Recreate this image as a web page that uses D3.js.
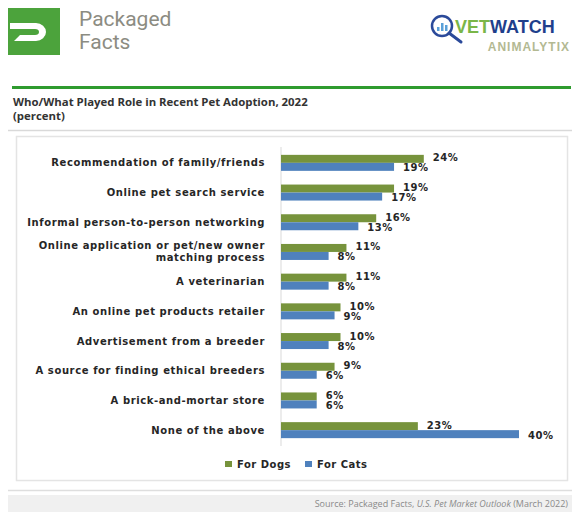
<!DOCTYPE html>
<html lang="en">
<head>
    <meta charset="UTF-8">
    <title>Who/What Played Role in Recent Pet Adoption, 2022</title>
    <script src="https://d3js.org/d3.v7.min.js"></script>
    <style>
        body { margin: 0; background: #fff; }
        svg { display: block; }
    </style>
</head>
<body>
    <svg></svg>

    <script>
const width = 572, height = 512;

// data
const categories = [
    "Recommendation of family/friends",
    "Online pet search service",
    "Informal person-to-person networking",
    "Online application or pet/new owner|matching process",
    "A veterinarian",
    "An online pet products retailer",
    "Advertisement from a breeder",
    "A source for finding ethical breeders",
    "A brick-and-mortar store",
    "None of the above"
];
const dogs = [24, 19, 16, 11, 11, 10, 10, 9, 6, 23];
const cats = [19, 17, 13, 8, 8, 9, 8, 6, 6, 40];
const seriesNames = ["For Dogs", "For Cats"];
const colors = ["#77933c", "#4f81bd"];

const svg = d3.select("svg")
    .attr("width", width)
    .attr("height", height);

// --- header / logos ---
svg.append("rect").attr("x", 8).attr("y", 8).attr("width", 52).attr("height", 47).attr("fill", "#4ca33c");
svg.append("path")
    .attr("d", "M10,23 H36 A10,9 0 0 1 36,41 H14 L20,35 H35 A4,3 0 0 0 35,29 H10 Z")
    .attr("fill", "#fff");
svg.append("text").attr("x", 79).attr("y", 26).text("Packaged")
    .attr("font-family", "Roboto, sans-serif").attr("font-size", 21).attr("fill", "#8c8c82");
svg.append("text").attr("x", 79).attr("y", 49).text("Facts")
    .attr("font-family", "Roboto, sans-serif").attr("font-size", 21).attr("fill", "#8c8c82");

const vw = svg.append("g");
vw.append("circle").attr("cx", 442).attr("cy", 26).attr("r", 10)
    .attr("fill", "none").attr("stroke", "#2b4a9a").attr("stroke-width", 2.5);
vw.append("line").attr("x1", 449).attr("y1", 33).attr("x2", 461).attr("y2", 42)
    .attr("stroke", "#2b4a9a").attr("stroke-width", 3).attr("stroke-linecap", "round");
[[437, 4], [441, 8], [445, 6]].forEach(([x, h]) => {
    vw.append("rect").attr("x", x).attr("y", 31 - h).attr("width", 2.5).attr("height", h).attr("fill", "#5aa0d8");
});
const vt = vw.append("text").attr("x", 455).attr("y", 33)
    .attr("font-family", "Liberation Sans, Arial, sans-serif").attr("font-weight", "bold").attr("font-size", 18);
vt.append("tspan").attr("fill", "#7ab648").text("VET");
vt.append("tspan").attr("fill", "#1f3f8c").text("WATCH");
vw.append("text").attr("x", 570).attr("y", 51).attr("text-anchor", "end").text("ANIMALYTIX")
    .attr("font-family", "Liberation Sans, Arial, sans-serif").attr("font-weight", "bold")
    .attr("font-size", 12).attr("letter-spacing", 1).attr("fill", "#b3b992");

// green rule and title
svg.append("rect").attr("x", 12).attr("y", 86).attr("width", 559).attr("height", 3).attr("fill", "#2f9b2f");
svg.append("text").attr("x", 13).attr("y", 106).text("Who/What Played Role in Recent Pet Adoption, 2022")
    .attr("font-family", "Open Sans, sans-serif").attr("font-weight", "bold").attr("font-size", 11.4).attr("fill", "#333");
svg.append("text").attr("x", 13).attr("y", 120).text("(percent)")
    .attr("font-family", "Open Sans, sans-serif").attr("font-weight", "bold").attr("font-size", 11.4).attr("fill", "#333");
svg.append("line").attr("x1", 8).attr("x2", 572).attr("y1", 130.5).attr("y2", 130.5)
    .attr("stroke", "#d9d9d9").attr("stroke-width", 1.5);

// chart frame
svg.append("rect").attr("x", 16.5).attr("y", 136.5).attr("width", 551).attr("height", 344)
    .attr("fill", "#fff").attr("stroke", "#e4e4e4").attr("stroke-width", 1.5);

// --- bars ---
const x = d3.scaleLinear().domain([0, 40]).range([281, 519]);
const y = d3.scaleBand().domain(categories).range([148, 445]);
const barH = 8;

const rows = categories.map((c, i) => ({ cat: c, vals: [dogs[i], cats[i]] }));

svg.append("line").attr("x1", 281).attr("x2", 281).attr("y1", 147).attr("y2", 446)
    .attr("stroke", "#d9d9d9");

const labelFont = "DejaVu Sans, sans-serif";

const g = svg.append("g").selectAll("g").data(rows).join("g")
    .attr("transform", d => `translate(0,${y(d.cat) + y.bandwidth() / 2})`);

g.each(function(d) {
    const row = d3.select(this);
    const lines = d.cat.split("|");
    const t = row.append("text")
        .attr("x", 265).attr("text-anchor", "end")
        .attr("font-family", labelFont).attr("font-weight", "bold").attr("font-size", 10)
        .attr("letter-spacing", 0.6)
        .attr("fill", "#262626");
    lines.forEach((ln, k) => {
        t.append("tspan").attr("x", 265)
            .attr("y", (k - (lines.length - 1) / 2) * 12 + 3.5)
            .text(ln);
    });
    d.vals.forEach((v, k) => {
        const top = k === 0 ? -barH : 0;
        row.append("rect")
            .attr("x", x(0)).attr("y", top)
            .attr("width", x(v) - x(0)).attr("height", barH)
            .attr("fill", colors[k]);
        row.append("text")
            .attr("x", x(v) + 9).attr("y", top + barH / 2 + 3.5 + (k === 0 ? -1 : 1))
            .text(v + "%")
            .attr("font-family", labelFont).attr("font-weight", "bold").attr("font-size", 10)
            .attr("letter-spacing", 0.5)
            .attr("fill", "#262626");
    });
});

// legend
const legX = [225, 305];
seriesNames.forEach((s, k) => {
    svg.append("rect").attr("x", legX[k]).attr("y", 461).attr("width", 7).attr("height", 6).attr("fill", colors[k]);
    svg.append("text").attr("x", legX[k] + 12).attr("y", 468).text(s)
        .attr("font-family", labelFont).attr("font-weight", "bold").attr("font-size", 10)
        .attr("letter-spacing", 0.5).attr("fill", "#262626");
});

// footer
svg.append("line").attr("x1", 8).attr("x2", 572).attr("y1", 490.5).attr("y2", 490.5)
    .attr("stroke", "#dedede").attr("stroke-width", 1.5);
svg.append("rect").attr("x", 8).attr("y", 495).attr("width", 564).attr("height", 17).attr("fill", "#f0f0f0");
const src = svg.append("text").attr("x", 568).attr("y", 507).attr("text-anchor", "end")
    .attr("font-family", "Open Sans, sans-serif").attr("font-size", 9).attr("fill", "#8a8a8a");
src.append("tspan").text("Source: Packaged Facts, ");
src.append("tspan").attr("font-style", "italic").text("U.S. Pet Market Outlook");
src.append("tspan").text(" (March 2022)");
    </script>
</body>
</html>
